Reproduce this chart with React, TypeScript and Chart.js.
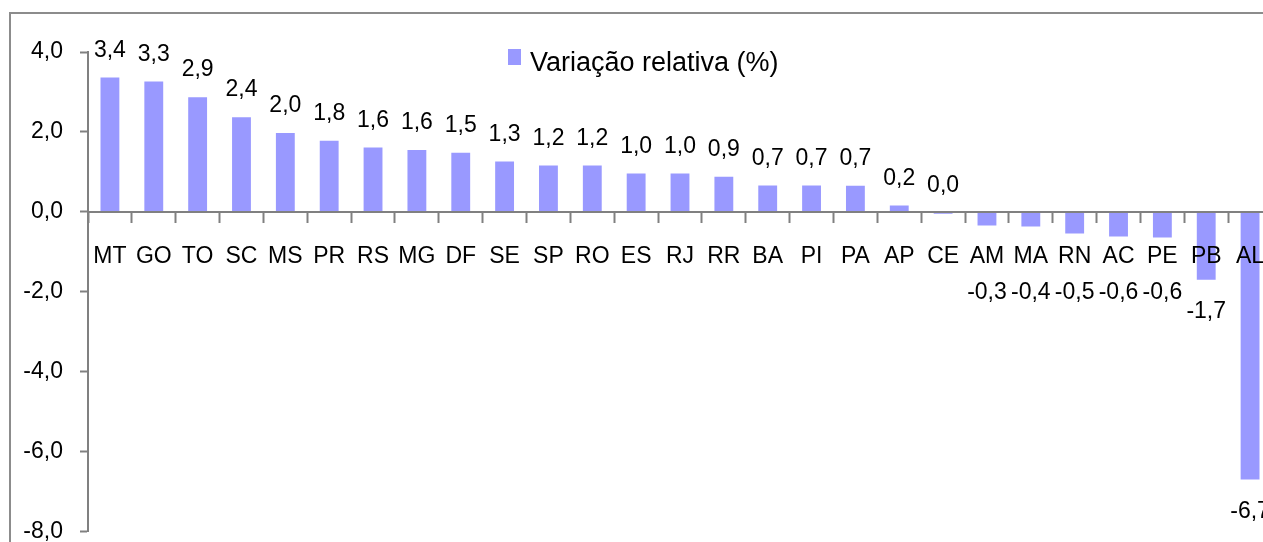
import React, { useEffect, useRef } from "react";
import { Chart, registerables } from "chart.js";

Chart.register(...registerables);

const categories = [
  "MT", "GO", "TO", "SC", "MS", "PR", "RS", "MG", "DF", "SE", "SP", "RO", "ES", "RJ",
  "RR", "BA", "PI", "PA", "AP", "CE", "AM", "MA", "RN", "AC", "PE", "PB", "AL",
];
const values = [
  3.36, 3.26, 2.87, 2.37, 1.97, 1.78, 1.61, 1.55, 1.48, 1.26, 1.16, 1.16, 0.96, 0.96,
  0.88, 0.66, 0.66, 0.65, 0.16, -0.049, -0.34, -0.37, -0.54, -0.62, -0.64, -1.7, -6.7,
];
const seriesName = "Variação relativa (%)";
const yMin = -8;
const yMax = 4;
const yStep = 2;

const BAR = "#9999ff";
const AXIS = "#808080";
const FONT = "'Liberation Sans', Arial, sans-serif";

const fmt = (v: number) => {
  let s = v.toFixed(1);
  if (s === "-0.0") s = "0.0";
  return s.replace(".", ",");
};

const dataLabels = {
  id: "dataLabels",
  afterDatasetsDraw(chart: any) {
    const ctx = chart.ctx;
    const meta = chart.getDatasetMeta(0);
    ctx.save();
    ctx.font = `23px ${FONT}`;
    ctx.fillStyle = "#000";
    ctx.textAlign = "center";
    ctx.textBaseline = "middle";
    meta.data.forEach((el: any, i: number) => {
      const p = el.getProps(["x", "y", "base"], true);
      const t = fmt(values[i]);
      let y;
      if (!t.startsWith("-")) y = Math.min(p.y, p.base) - 27;
      else y = Math.max(p.y + 32, p.base + 80);
      ctx.fillText(t, p.x, y);
    });
    ctx.restore();
  },
};

const customLegend = {
  id: "customLegend",
  afterDraw(chart: any) {
    const ctx = chart.ctx;
    const x = chart.chartArea.left + 420;
    const y = chart.chartArea.top - 3;
    ctx.save();
    ctx.fillStyle = BAR;
    ctx.fillRect(x, y, 13, 16);
    ctx.fillStyle = "#000";
    ctx.font = `27px ${FONT}`;
    ctx.textAlign = "left";
    ctx.textBaseline = "alphabetic";
    ctx.fillText(seriesName, x + 22, y + 22);
    ctx.restore();
  },
};

export default function App() {
  const ref = useRef<HTMLCanvasElement>(null);
  useEffect(() => {
    if (!ref.current) return;
    const chart = new Chart(ref.current, {
      type: "bar",
      data: {
        labels: categories,
        datasets: [
          {
            label: seriesName,
            data: values,
            backgroundColor: BAR,
            borderWidth: 0,
            categoryPercentage: 1,
            barPercentage: 0.43,
          },
        ],
      },
      options: {
        animation: false,
        responsive: false,
        devicePixelRatio: 1,
        layout: { padding: { left: 0, top: 52, right: 28, bottom: 38.5 } },
        plugins: { legend: { display: false }, tooltip: { enabled: false } },
        scales: {
          x: {
            type: "category",
            position: { y: 0 } as any,
            offset: true,
            afterFit: (s: any) => {
              s.height = 0;
            },
            grid: {
              offset: true,
              drawOnChartArea: false,
              drawTicks: true,
              tickLength: 10,
              tickColor: AXIS,
              tickWidth: 2,
              z: 1,
            },
            border: { color: AXIS, width: 2, z: 1 },
            ticks: {
              padding: 21,
              color: "#000",
              font: { family: FONT, size: 23 },
              autoSkip: false,
              maxRotation: 0,
              minRotation: 0,
              z: 1,
            },
          },
          y: {
            min: yMin,
            max: yMax,
            afterFit: (s: any) => {
              s.width = 88;
            },
            grid: {
              drawOnChartArea: false,
              drawTicks: true,
              tickLength: 8,
              tickColor: AXIS,
              tickWidth: 2,
            },
            border: { color: AXIS, width: 2 },
            ticks: {
              stepSize: yStep,
              padding: 17,
              color: "#000",
              font: { family: FONT, size: 23 },
              callback: (v: any) => fmt(Number(v)),
            },
          },
        },
      },
      plugins: [dataLabels, customLegend],
    });
    return () => chart.destroy();
  }, []);

  return (
    <div
      style={{
        position: "fixed",
        left: 0,
        top: 0,
        width: 1263,
        height: 542,
        overflow: "hidden",
        background: "#fff",
      }}
    >
      <div
        style={{
          position: "absolute",
          left: 9,
          top: 12,
          width: 1400,
          height: 700,
          borderLeft: "2px solid #8c8c8c",
          borderTop: "2px solid #8c8c8c",
        }}
      />
      <canvas
        ref={ref}
        width={1300}
        height={570}
        style={{ position: "absolute", left: 0, top: 0, width: 1300, height: 570 }}
      />
    </div>
  );
}
